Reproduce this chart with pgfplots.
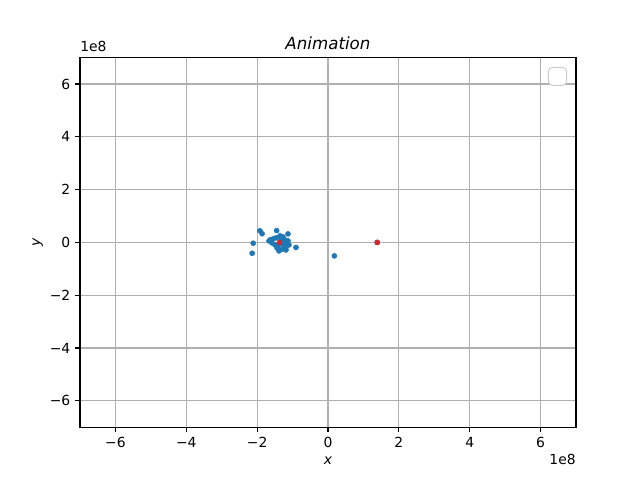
\documentclass[border=0pt]{standalone}
\usepackage{pgfplots}
\pgfplotsset{compat=1.18}
\usepackage{fontspec}
\setmainfont{DejaVu Sans}
\definecolor{mblue}{HTML}{1F77B4}
\definecolor{mred}{HTML}{D62728}
\definecolor{mgrid}{HTML}{B0B0B0}
\begin{document}
\begin{tikzpicture}
\begin{axis}[
  scale only axis,
  width=357.1pt, height=266.1pt,
  xmin=-7, xmax=7, ymin=-7, ymax=7,
  xtick={-6,-4,-2,0,2,4,6}, ytick={-6,-4,-2,0,2,4,6},
  xticklabels={−6,−4,−2,0,2,4,6},
  yticklabels={−6,−4,−2,0,2,4,6},
  xtick pos=bottom, ytick pos=left,
  grid=major,
  major grid style={color=mgrid, line width=0.8pt},
  tick align=outside,
  major tick length=3.5pt,
  tick style={black, line width=0.8pt},
  axis line style={black, line width=0.8pt},
  tick label style={font=\fontsize{10}{12}\selectfont},
  title={\itshape Animation},
  title style={font=\fontsize{12}{14}\selectfont, yshift=-4pt},
  xlabel={\itshape x}, ylabel={\itshape y},
  label style={font=\fontsize{10}{12}\selectfont},
  ylabel style={yshift=-2pt},
  clip=false,
]
\addplot[only marks, mark=*, mark size=1.8pt, color=mblue, mark options={draw=mblue, fill=mblue}] coordinates {
(-1.637,0.095) (-1.552,0.133) (-1.468,0.171) (-1.355,0.247) (-1.270,0.209)
(-1.214,0.095) (-1.157,-0.019) (-1.101,-0.095) (-1.185,-0.171) (-1.270,-0.247)
(-1.355,-0.285) (-1.439,-0.209) (-1.496,-0.095) (-1.581,-0.019) (-1.298,-0.057)
(-1.242,0.019) (-1.411,-0.133) (-1.327,0.133) (-1.129,0.057) (-1.448,0.448)
(-1.129,0.322) (-0.903,-0.190) (-1.185,-0.285) (-1.383,-0.322) (-1.665,0.057)
(-1.92,0.44) (-1.86,0.33) (-2.11,-0.03) (-2.14,-0.41) (0.18,-0.51) (1.39,0.0)
};
\addplot[only marks, mark=*, mark size=1.8pt, color=mred, mark options={draw=mred, fill=mred}] coordinates {
(-1.37,0.0) (1.39,0.0)
};
\coordinate (sw) at (rel axis cs:0,0);
\coordinate (ne) at (rel axis cs:1,1);
\draw[rounded corners=3pt, draw=black!20, fill=white, line width=0.7pt] ([xshift=-19.9pt,yshift=-7pt]ne) rectangle ([xshift=-6.7pt,yshift=-19.9pt]ne);
\node[anchor=south west, inner sep=0pt, font=\fontsize{10}{12}\selectfont] at ([yshift=4pt]rel axis cs:0,1) {1e8};
\node[anchor=north east, inner sep=0pt, font=\fontsize{10}{12}\selectfont] at ([yshift=-19pt]rel axis cs:1,0) {1e8};
\end{axis}
\path (sw) ++(-57.6pt,-38.0pt) rectangle ++(460.8pt,345.6pt);
\end{tikzpicture}
\end{document}
